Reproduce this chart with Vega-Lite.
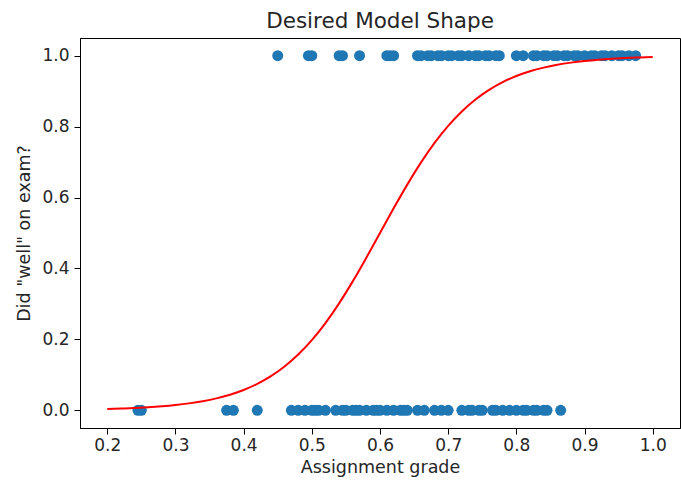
{
  "$schema": "https://vega.github.io/schema/vega-lite/v6.json",
  "autosize": "none",
  "width": 600,
  "height": 390,
  "padding": {"left": 80, "top": 38, "right": 1, "bottom": 58},
  "background": "white",
  "config": {
    "font": "DejaVu Sans",
    "view": {"stroke": "black", "strokeWidth": 1},
    "axis": {
      "grid": false,
      "domainColor": "black",
      "tickColor": "black",
      "tickSize": 6,
      "labelFontSize": 17,
      "labelColor": "#262626",
      "titleFontSize": 17.5,
      "titleFontWeight": "normal",
      "titleColor": "#262626",
      "labelFont": "DejaVu Sans",
      "titleFont": "DejaVu Sans"
    }
  },
  "title": {"text": "Desired Model Shape", "fontSize": 21.5, "fontWeight": "normal", "font": "DejaVu Sans", "color": "#262626", "offset": 6},
  "datasets": {
    "pts": [
      {"grade": 0.45, "well": 1}, {"grade": 0.495, "well": 1}, {"grade": 0.50, "well": 1}, {"grade": 0.54, "well": 1},
      {"grade": 0.545, "well": 1}, {"grade": 0.57, "well": 1}, {"grade": 0.61, "well": 1}, {"grade": 0.615, "well": 1},
      {"grade": 0.62, "well": 1}, {"grade": 0.655, "well": 1}, {"grade": 0.66, "well": 1}, {"grade": 0.67, "well": 1},
      {"grade": 0.675, "well": 1}, {"grade": 0.685, "well": 1}, {"grade": 0.69, "well": 1}, {"grade": 0.70, "well": 1},
      {"grade": 0.705, "well": 1}, {"grade": 0.715, "well": 1}, {"grade": 0.72, "well": 1}, {"grade": 0.73, "well": 1},
      {"grade": 0.74, "well": 1}, {"grade": 0.745, "well": 1}, {"grade": 0.755, "well": 1}, {"grade": 0.76, "well": 1},
      {"grade": 0.77, "well": 1}, {"grade": 0.775, "well": 1}, {"grade": 0.80, "well": 1}, {"grade": 0.81, "well": 1},
      {"grade": 0.825, "well": 1}, {"grade": 0.83, "well": 1}, {"grade": 0.84, "well": 1}, {"grade": 0.845, "well": 1},
      {"grade": 0.855, "well": 1}, {"grade": 0.86, "well": 1}, {"grade": 0.87, "well": 1}, {"grade": 0.875, "well": 1},
      {"grade": 0.885, "well": 1}, {"grade": 0.89, "well": 1}, {"grade": 0.90, "well": 1}, {"grade": 0.91, "well": 1},
      {"grade": 0.915, "well": 1}, {"grade": 0.925, "well": 1}, {"grade": 0.93, "well": 1}, {"grade": 0.94, "well": 1},
      {"grade": 0.95, "well": 1}, {"grade": 0.955, "well": 1}, {"grade": 0.965, "well": 1}, {"grade": 0.975, "well": 1},
      {"grade": 0.245, "well": 0}, {"grade": 0.25, "well": 0}, {"grade": 0.375, "well": 0}, {"grade": 0.385, "well": 0},
      {"grade": 0.42, "well": 0}, {"grade": 0.47, "well": 0}, {"grade": 0.48, "well": 0}, {"grade": 0.49, "well": 0},
      {"grade": 0.50, "well": 0}, {"grade": 0.505, "well": 0}, {"grade": 0.51, "well": 0}, {"grade": 0.52, "well": 0},
      {"grade": 0.535, "well": 0}, {"grade": 0.545, "well": 0}, {"grade": 0.55, "well": 0}, {"grade": 0.56, "well": 0},
      {"grade": 0.565, "well": 0}, {"grade": 0.57, "well": 0}, {"grade": 0.58, "well": 0}, {"grade": 0.59, "well": 0},
      {"grade": 0.595, "well": 0}, {"grade": 0.60, "well": 0}, {"grade": 0.61, "well": 0}, {"grade": 0.62, "well": 0},
      {"grade": 0.63, "well": 0}, {"grade": 0.635, "well": 0}, {"grade": 0.64, "well": 0}, {"grade": 0.655, "well": 0},
      {"grade": 0.665, "well": 0}, {"grade": 0.68, "well": 0}, {"grade": 0.69, "well": 0}, {"grade": 0.70, "well": 0},
      {"grade": 0.72, "well": 0}, {"grade": 0.73, "well": 0}, {"grade": 0.735, "well": 0}, {"grade": 0.745, "well": 0},
      {"grade": 0.75, "well": 0}, {"grade": 0.765, "well": 0}, {"grade": 0.77, "well": 0}, {"grade": 0.78, "well": 0},
      {"grade": 0.79, "well": 0}, {"grade": 0.80, "well": 0}, {"grade": 0.81, "well": 0}, {"grade": 0.815, "well": 0},
      {"grade": 0.825, "well": 0}, {"grade": 0.83, "well": 0}, {"grade": 0.84, "well": 0}, {"grade": 0.845, "well": 0},
      {"grade": 0.865, "well": 0}
    ],
    "curve": [
      {"grade": 0.20, "p": 0.00369}, {"grade": 0.22, "p": 0.00487}, {"grade": 0.24, "p": 0.00643}, {"grade": 0.26, "p": 0.00849},
      {"grade": 0.28, "p": 0.01121}, {"grade": 0.30, "p": 0.01477}, {"grade": 0.32, "p": 0.01946}, {"grade": 0.34, "p": 0.02558},
      {"grade": 0.36, "p": 0.03357}, {"grade": 0.38, "p": 0.04394}, {"grade": 0.40, "p": 0.05732}, {"grade": 0.42, "p": 0.07446},
      {"grade": 0.44, "p": 0.09622}, {"grade": 0.46, "p": 0.12347}, {"grade": 0.48, "p": 0.15710}, {"grade": 0.50, "p": 0.19782},
      {"grade": 0.52, "p": 0.24601}, {"grade": 0.54, "p": 0.30153}, {"grade": 0.56, "p": 0.36354}, {"grade": 0.58, "p": 0.43045},
      {"grade": 0.60, "p": 0.5}, {"grade": 0.62, "p": 0.56955}, {"grade": 0.64, "p": 0.63646}, {"grade": 0.66, "p": 0.69847},
      {"grade": 0.68, "p": 0.75399}, {"grade": 0.70, "p": 0.80218}, {"grade": 0.72, "p": 0.84290}, {"grade": 0.74, "p": 0.87653},
      {"grade": 0.76, "p": 0.90378}, {"grade": 0.78, "p": 0.92554}, {"grade": 0.80, "p": 0.94268}, {"grade": 0.82, "p": 0.95606},
      {"grade": 0.84, "p": 0.96643}, {"grade": 0.86, "p": 0.97442}, {"grade": 0.88, "p": 0.98054}, {"grade": 0.90, "p": 0.98523},
      {"grade": 0.92, "p": 0.98879}, {"grade": 0.94, "p": 0.99151}, {"grade": 0.96, "p": 0.99357}, {"grade": 0.98, "p": 0.99513},
      {"grade": 1.00, "p": 0.99631}
    ]
  },
  "layer": [
    {
      "data": {"name": "pts"},
      "mark": {"type": "circle", "size": 120, "color": "#1f77b4", "opacity": 1},
      "encoding": {
        "x": {"field": "grade", "type": "quantitative", "scale": {"domain": [0.16, 1.04], "nice": false, "zero": false},
              "axis": {"values": [0.2, 0.3, 0.4, 0.5, 0.6, 0.7, 0.8, 0.9, 1.0], "format": ".1f", "title": "Assignment grade", "titlePadding": 5, "labelPadding": 3}},
        "y": {"field": "well", "type": "quantitative", "scale": {"domain": [-0.05, 1.05], "nice": false, "zero": false},
              "axis": {"values": [0, 0.2, 0.4, 0.6, 0.8, 1.0], "format": ".1f", "title": "Did \"well\" on exam?", "titlePadding": 8, "labelPadding": 5}}
      }
    },
    {
      "data": {"name": "curve"},
      "mark": {"type": "line", "color": "red", "strokeWidth": 2, "interpolate": "monotone"},
      "encoding": {
        "x": {"field": "grade", "type": "quantitative"},
        "y": {"field": "p", "type": "quantitative"}
      }
    }
  ]
}
